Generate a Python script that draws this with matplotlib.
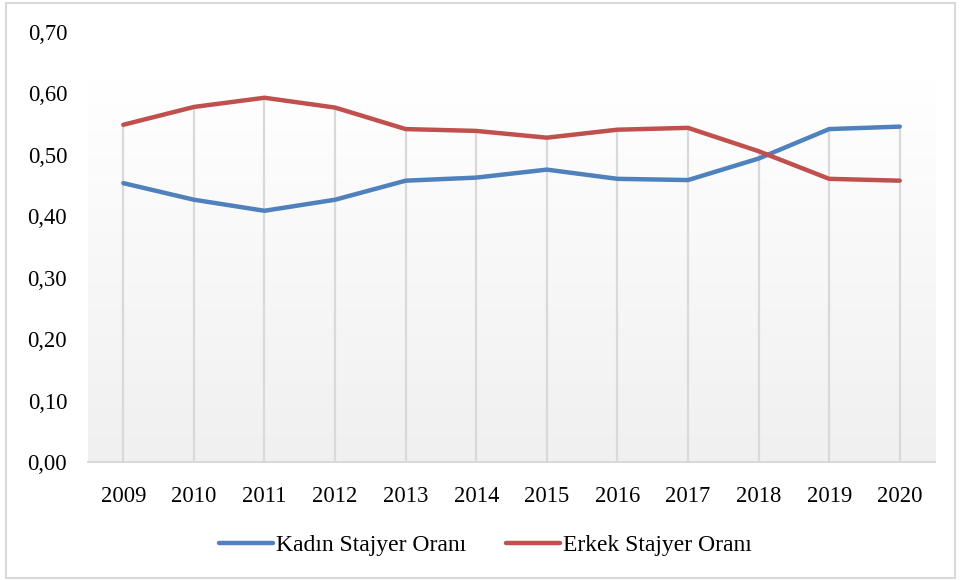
import numpy as np
import matplotlib
matplotlib.use("Agg")
import matplotlib.pyplot as plt
from matplotlib.patches import Rectangle

years = ["2009", "2010", "2011", "2012", "2013", "2014", "2015", "2016", "2017", "2018", "2019", "2020"]
kadin = [0.454, 0.427, 0.409, 0.427, 0.458, 0.463, 0.476, 0.461, 0.459, 0.494, 0.542, 0.546]
erkek = [0.549, 0.578, 0.593, 0.577, 0.542, 0.539, 0.528, 0.541, 0.544, 0.506, 0.461, 0.458]
yticks = [0.0, 0.1, 0.2, 0.3, 0.4, 0.5, 0.6, 0.7]
labels = ["Kadın Stajyer Oranı", "Erkek Stajyer Oranı"]

plt.rcParams['font.family'] = ['Liberation Serif', 'DejaVu Serif']

fig = plt.figure(figsize=(9.61, 5.8), dpi=100)
fig.patch.set_facecolor('white')
fig.add_artist(Rectangle((0.006, 0.004), 0.988, 0.99, transform=fig.transFigure,
                         fill=False, edgecolor='#d9d9d9', linewidth=1.5))

ax = fig.add_axes([0.0916, 0.2034, 0.8814, 0.7414])
x = np.arange(len(years))
ax.set_xlim(-0.5, len(years) - 0.5)
ax.set_ylim(0, 0.70)

# gradient plot-area background
grad = np.linspace(0, 1, 256).reshape(-1, 1)
cmap = matplotlib.colors.LinearSegmentedColormap.from_list('g', ['#f0f0f0', '#ffffff'])
ax.imshow(grad, extent=(-0.5, len(years) - 0.5, 0, 0.622), origin='lower',
          aspect='auto', cmap=cmap, zorder=0)

# drop lines
tops = np.maximum(kadin, erkek)
ax.vlines(x, 0, tops, colors='#d9d9d9', linewidth=1.6, zorder=1)

ax.plot(x, kadin, color='#4F81BD', linewidth=3.2, solid_capstyle='round', label=labels[0], zorder=3)
ax.plot(x, erkek, color='#C0504D', linewidth=3.2, solid_capstyle='round', label=labels[1], zorder=3)

ax.set_xticks(x)
ax.set_xticklabels(years, fontsize=16.3)
ax.set_yticks(yticks)
ax.set_yticklabels([f"{v:.2f}".replace('.', ',') for v in yticks], fontsize=16.3)
ax.tick_params(axis='both', length=0)
ax.tick_params(axis='x', pad=17)
ax.tick_params(axis='y', pad=15)
for s in ['top', 'right', 'left']:
    ax.spines[s].set_visible(False)
ax.spines['bottom'].set_color('#d9d9d9')
ax.spines['bottom'].set_linewidth(1.5)
ax.set_facecolor('white')

fig.legend(loc='center', bbox_to_anchor=(0.505, 0.06), ncol=2, frameon=False,
           fontsize=17, handlelength=2.3, handletextpad=0.1, columnspacing=1.7)

fig.savefig('out.png', dpi=100)
